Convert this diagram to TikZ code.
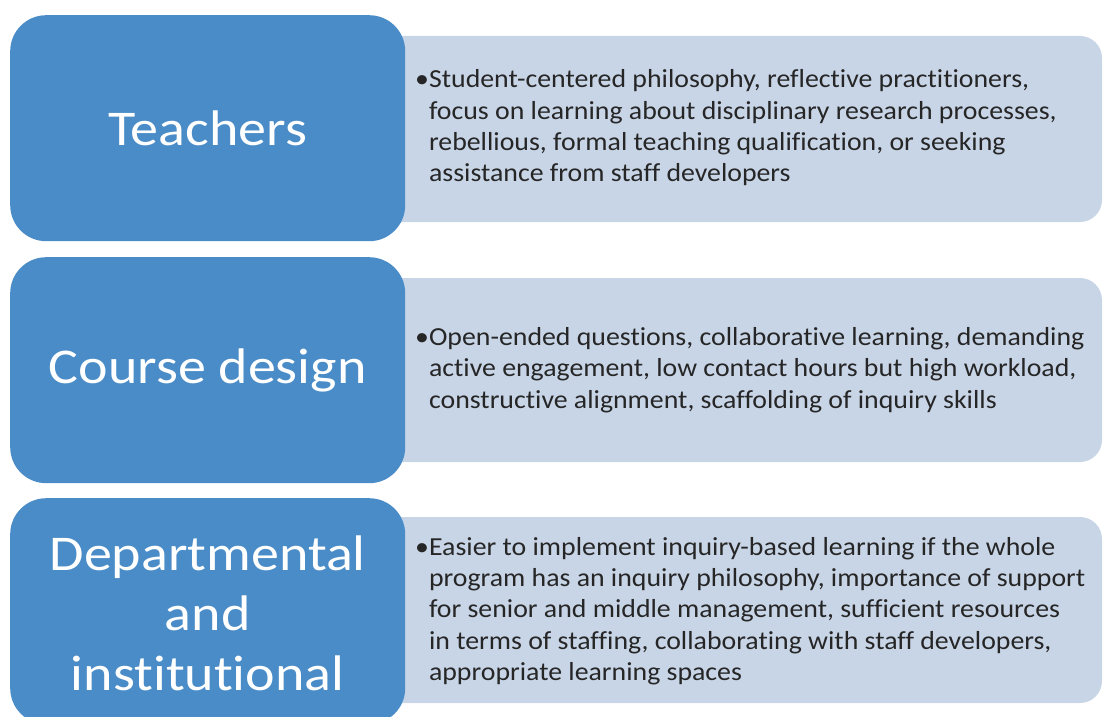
\documentclass[tikz,border=0pt]{standalone}
\usepackage{fontspec}
\setmainfont{Carlito}[FakeStretch=1.12,Ligatures=NoCommon]
\newfontfamily\bodyfont{Carlito}[FakeStretch=1.07,Ligatures=NoCommon]
\definecolor{bluefill}{HTML}{4A8CC7}
\definecolor{lightfill}{HTML}{C8D5E7}
\tikzset{
  x=1pt,y=-1pt,
  lightbox/.style={fill=lightfill},
  bluebox/.style={fill=bluefill, rounded corners=36pt},
  label/.style={text=white, font=\fontsize{50}{60}\selectfont, align=center},
  body/.style={text=black!85, font=\bodyfont\fontsize{26}{31.3}\selectfont, align=left, anchor=west, inner sep=0pt}
}
\newcommand{\bul}{\textbullet}
\newcommand{\ind}{\hphantom{\textbullet}}
\begin{document}
\begin{tikzpicture}
\useasboundingbox (0,0) rectangle (1104,717);
\clip (0,0) rectangle (1104,717);
% light boxes
\fill[lightbox, rounded corners=22pt] (330,36) rectangle (1102,222);
\fill[lightbox, rounded corners=22pt] (330,278) rectangle (1102,462);
\fill[lightbox, rounded corners=22pt] (330,517) rectangle (1102,703);
% blue boxes
\node[bluebox, minimum width=395pt, minimum height=226pt, inner sep=0pt, anchor=north west] (b1) at (10,15) {};
\node[bluebox, minimum width=395pt, minimum height=226pt, inner sep=0pt, anchor=north west] (b2) at (10,257) {};
\node[bluebox, minimum width=395pt, minimum height=226pt, inner sep=0pt, anchor=north west] (b3) at (10,498) {};
\node[label] (l1) at (b1.center) {Teachers};
\node[label] (l2) at (b2.center) {Course design};
\node[label] (l3) at ([yshift=-2pt]b3.center) {Departmental\\and\\institutional};
% body texts
\node[body] (t1) at (415,128) {\bul Student-centered philosophy, reflective practitioners,\\
\ind focus on learning about disciplinary research processes,\\
\ind rebellious, formal teaching qualification, or seeking\\
\ind assistance from staff developers};
\node[body] (t2) at (415,370) {\bul Open-ended questions, collaborative learning, demanding\\
\ind active engagement, low contact hours but high workload,\\
\ind constructive alignment, scaffolding of inquiry skills};
\node[body] (t3) at (415,611) {\bul Easier to implement inquiry-based learning if the whole\\
\ind program has an inquiry philosophy, importance of support\\
\ind for senior and middle management, sufficient resources\\
\ind in terms of staffing, collaborating with staff developers,\\
\ind appropriate learning spaces};
\end{tikzpicture}
\end{document}
